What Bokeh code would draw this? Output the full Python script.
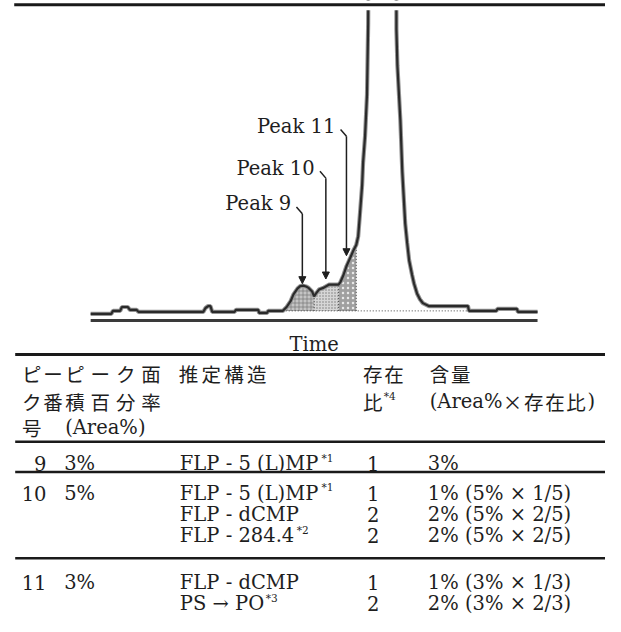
import re
import numpy as np
from bokeh.plotting import figure
from bokeh.models import ColumnDataSource, Range1d, Arrow, NormalHead
from bokeh.layouts import column
from bokeh.core.properties import value
from bokeh.embed import file_html
from bokeh.resources import INLINE

# ---------------- data: chromatogram ----------------
trace_time = [0, 4.6, 5.0, 6.6, 7.0, 8.3, 8.8, 10.3, 10.7, 25.2, 25.7, 26.3, 26.8, 27.2,
              32.2, 32.5, 37.5, 37.7, 39.5, 39.7, 42.98, 43.86, 44.74, 45.39, 46.27, 46.9,
              47.59, 48.2, 48.68, 49.56, 50.0, 50.44, 51.1, 52.19, 53.29, 55.48, 55.92,
              56.58, 57.24, 58.11, 58.77, 59.43, 59.87, 60.09, 60.31, 60.75, 60.96, 61.4,
              61.84, 62.1, 62.2, 65.3, 68.4, 68.42, 68.64, 69.3, 69.74, 70.39, 70.83, 71.27,
              71.93, 72.37, 73.03, 73.68, 74.34, 75.66, 84.43, 84.65, 90.79, 91.01, 95.39,
              95.61, 100]
trace_signal = [2.19, 2.19, 3.13, 3.13, 4.38, 4.38, 3.44, 3.44, 2.81, 2.81, 4.06, 4.69, 4.69, 2.81,
                2.81, 3.44, 3.44, 2.5, 2.5, 3.13, 3.13, 4.38, 6.25, 8.44, 10.31, 11.1,
                11.25, 11.0, 10.63, 9.38, 7.81, 8.75, 10.0, 10.63, 11.56, 11.56, 12.5,
                14.69, 17.5, 20.31, 22.5, 24.38, 27.19, 31.25, 35.31, 43.75, 50.94, 59.38,
                72.81, 95.9, 130, 262, 130, 93.75, 82.19, 64.69, 47.81, 31.25, 25.0, 19.38,
                14.69, 11.88, 8.75, 6.88, 5.63, 4.69, 4.69, 3.13, 3.13, 3.75, 3.75,
                2.81, 2.81]
peak_bounds = [42.98, 50.0, 55.48, 59.43]      # start of peak 9 .. end of peak 11
baseline_level = 3.13
baseline_end = 84.43
peak_labels = ["Peak 9", "Peak 10", "Peak 11"]
arrow_time = [47.37, 52.63, 57.24]
arrow_tip = [11.9, 13.4, 20.9]
arrow_top = [34.4, 45.9, 59.4]
x_label = "Time"

# ---------------- data: table ----------------
header_cols = [["ピー", "ク番", "号"],
               ["ピーク面", "積百分率", "(Area%)"],
               ["推定構造"],
               ["存在", "比*4"],
               ["含量", "(Area%×存在比)"]]
table_peak_no = ["9", "10", "11"]
table_area = ["3%", "5%", "3%"]
table_structure = [["FLP - 5 (L)MP*1"],
                   ["FLP - 5 (L)MP*1", "FLP - dCMP", "FLP - 284.4*2"],
                   ["FLP - dCMP", "PS → PO*3"]]
table_ratio = [[1], [1, 2, 2], [1, 2]]
table_content = [["3%"],
                 ["1% (5% × 1/5)", "2% (5% × 2/5)", "2% (5% × 2/5)"],
                 ["1% (3% × 1/3)", "2% (3% × 2/3)"]]

# ---------------- styling / layout ----------------
W, H = 605, 616
SX, SY = 0.98, 0.97            # layout units -> screen pixels
def X(r): return r * SX
def Y(r): return r * SY

SERIF = "DejaVu Serif"
CJK = "Noto Sans CJK JP"
TXT = "#1e1e1e"
RULE = "#1a1a1a"
FONT_PX = "19.5px"
SUP_PX = "10.5px"
LAT_SIZE, SUP_SIZE = 20, 11     # in layout units (for width estimates)

def style_blank(p):
    p.grid.visible = False
    p.outline_line_color = None
    p.background_fill_color = "white"
    p.border_fill_color = "white"

# ---- chromatogram (frame spans whole figure; data mapped to the plot box) ----
CH_H = 357
BOX_L, BOX_R = X(92), X(548)        # screen x of time 0 and 100
BOX_T, BOX_B = Y(10), Y(330)        # screen y of signal 100 and 0
px_t = (BOX_R - BOX_L) / 100.0
px_s = (BOX_B - BOX_T) / 100.0
xr = Range1d(-BOX_L / px_t, 100 + (W - BOX_R) / px_t)
yr = Range1d(-(CH_H - BOX_B) / px_s, 100 + BOX_T / px_s)
def tx(px): return (px - BOX_L) / px_t
def sy(py): return (BOX_B - py) / px_s

chart = figure(width=W, height=CH_H, x_range=xr, y_range=yr,
               x_axis_location=None, y_axis_location=None, min_border=0,
               frame_align=False, toolbar_location=None, output_backend="svg")
style_blank(chart)

tt = np.array(trace_time, dtype=float)
ss = np.array(trace_signal, dtype=float)

fills = [dict(fill_color="#c4c4c4", hatch_pattern="cross", hatch_color="#767676",
              hatch_scale=4, hatch_weight=0.7),
         dict(fill_color="#d6d6d6", hatch_pattern="dot", hatch_color="#7a7a7a",
              hatch_scale=3, hatch_weight=0.8),
         dict(fill_color="#a0a0a0", hatch_pattern="dot", hatch_color="#e8e8e8",
              hatch_scale=5, hatch_weight=0.8)]
for i in range(3):
    a, b = peak_bounds[i], peak_bounds[i + 1]
    inner = tt[(tt > a) & (tt < b)]
    xs = np.concatenate([[a], inner, [b]])
    ys = np.interp(xs, tt, ss)
    chart.varea(x=xs, y1=np.full_like(xs, baseline_level), y2=ys, **fills[i])

chart.line(x=[peak_bounds[0], baseline_end], y=[baseline_level, baseline_level],
           line_dash="1 2", line_color="#444", line_width=1)
bx = np.array(peak_bounds[1:])
chart.segment(x0=bx, x1=bx, y0=np.full_like(bx, baseline_level), y1=np.interp(bx, tt, ss),
              line_dash="1 2", line_color="#444", line_width=1)

chart.line(x=tt, y=ss, line_color="#959595", line_width=4.2)
chart.line(x=tt, y=ss, line_color="#2a2a2a", line_width=2.2)

# plot-box clip above signal 100, then the full-width rules (top, and table top)
chart.quad(left=[xr.start], right=[xr.end], bottom=[100], top=[yr.end],
           fill_color="white", line_color=None)
chart.segment(x0=[tx(X(14))], x1=[tx(W + 4)], y0=[sy(Y(4.3))], y1=[sy(Y(4.3))],
              line_width=3, line_color=RULE)
chart.segment(x0=[tx(X(15))], x1=[tx(W + 4)], y0=[sy(Y(365))], y1=[sy(Y(365))],
              line_width=3, line_color=RULE)

# time axis line and its title
chart.segment(x0=[0], x1=[100], y0=[0], y1=[0], line_width=3, line_color="#3a3a3a")
chart.text(x=[tx(X(320))], y=[sy(Y(355))], text=[x_label],
           text_align="center", text_baseline="alphabetic", text_font=value(SERIF),
           text_font_size=FONT_PX, text_color=TXT)

# peak labels with arrows
for lab, t, tip, top in zip(peak_labels, arrow_time, arrow_tip, arrow_top):
    chart.add_layout(Arrow(end=NormalHead(size=7, fill_color="#1e1e1e", line_color="#1e1e1e"),
                           x_start=t, y_start=top, x_end=t, y_end=tip,
                           line_width=1.5, line_color="#1e1e1e"))
    chart.segment(x0=[t - 1.32], y0=[top + 2.2], x1=[t], y1=[top],
                  line_width=1.5, line_color="#1e1e1e")
chart.text(x=[t - 2.5 for t in arrow_time], y=[v + 3.2 for v in arrow_top], text=peak_labels,
           text_align="right", text_baseline="alphabetic", text_font=value(SERIF),
           text_font_size=FONT_PX, text_color=TXT)

# ---- table (coordinates in layout units, y downward) ----
table = figure(width=W, height=H - CH_H, x_range=Range1d(0, W / SX),
               y_range=Range1d(H / SY, CH_H / SY),
               x_axis_location=None, y_axis_location=None, min_border=0,
               frame_align=False, toolbar_location=None, output_backend="svg")
style_blank(table)

LAT_W = {" ": .318, "%": .950, "(": .391, ")": .391, "*": .500, "-": .338, ".": .318,
         "/": .337, "A": .722, "C": .734, "F": .733, "L": .694, "M": .952, "O": .787,
         "P": .733, "S": .686, "T": .682, "a": .596, "d": .640, "e": .592, "i": .320,
         "k": .623, "m": .948, "r": .478, "×": .838, "→": .838}
for dch in "0123456789":
    LAT_W[dch] = .636

def lat_width(s, size):
    return sum(LAT_W.get(c, .6) for c in s) * size

runs_lat = dict(x=[], y=[], text=[])
runs_cjk = dict(x=[], y=[], text=[])
runs_sup = dict(x=[], y=[], text=[])

def put(x, y, s, header=False, align="left", pitch=22.0):
    m = re.match(r"^(.*?)\*(\d)$", s)
    main, sup = (m.group(1), "*" + m.group(2)) if m else (s, None)
    runs = []
    for ch in main:
        wide = ord(ch) >= 0x3000 or (header and ch == "×")
        if wide:
            runs.append(("w", ch))
        elif runs and runs[-1][0] == "n":
            runs[-1] = ("n", runs[-1][1] + ch)
        else:
            runs.append(("n", ch))
    total = sum(pitch if k == "w" else lat_width(t, LAT_SIZE) for k, t in runs)
    if sup:
        total += lat_width(sup, SUP_SIZE)
    cx = x - total if align == "right" else x
    for k, t in runs:
        if k == "w":
            runs_cjk["x"].append(cx); runs_cjk["y"].append(y); runs_cjk["text"].append(t)
            cx += pitch
        else:
            runs_lat["x"].append(cx); runs_lat["y"].append(y); runs_lat["text"].append(t)
            cx += lat_width(t, LAT_SIZE)
    if sup:
        runs_sup["x"].append(cx - 0.5); runs_sup["y"].append(y - 6); runs_sup["text"].append(sup)

col_x = [22, 66, 182, 370, 438]
col_pitch = [21.6, 25.9, 23.2, 21.6, 21.6]
header_base = [385, 413.5, 440]
for cx, cp, lines in zip(col_x, col_pitch, header_cols):
    for yb, s in zip(header_base, lines):
        put(cx, yb, s, header=True, pitch=cp)

row_base = [[477.5], [508, 530, 552], [600, 622]]
for i in range(3):
    ys = row_base[i]
    put(47, ys[0], table_peak_no[i], align="right")
    put(65, ys[0], table_area[i])
    for yb, st, r, c in zip(ys, table_structure[i], table_ratio[i], table_content[i]):
        put(183, yb, st)
        put(374, yb, str(r))
        put(436, yb, c)

table.text(x="x", y="y", text="text", source=ColumnDataSource(runs_lat),
           text_font=value(SERIF), text_font_size=FONT_PX, text_color=TXT,
           text_baseline="alphabetic", text_align="left")
table.text(x="x", y="y", text="text", source=ColumnDataSource(runs_cjk),
           text_font=value(CJK), text_font_size=FONT_PX, text_color=TXT,
           text_baseline="alphabetic", text_align="left")
table.text(x="x", y="y", text="text", source=ColumnDataSource(runs_sup),
           text_font=value(SERIF), text_font_size=SUP_PX, text_color=TXT,
           text_baseline="alphabetic", text_align="left")

rules_y = [455, 486, 575]
for ry in rules_y:
    table.segment(x0=[15], x1=[W / SX + 4], y0=[ry], y1=[ry], line_width=2.5, line_color=RULE)

layout = column(chart, table, spacing=0)
open("out.html", "w").write(file_html(layout, INLINE))
